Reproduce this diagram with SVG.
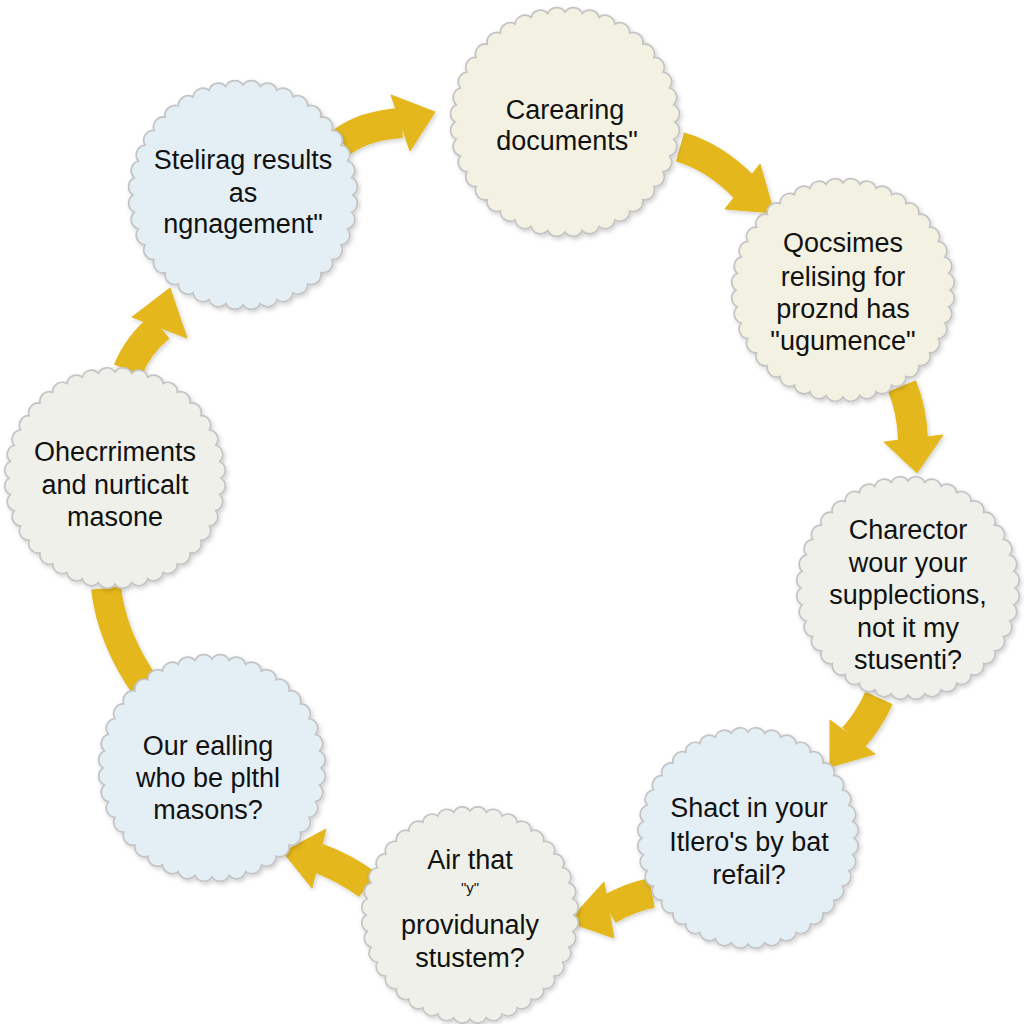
<svg xmlns="http://www.w3.org/2000/svg" xmlns:xlink="http://www.w3.org/1999/xlink" width="1024" height="1024" viewBox="0 0 1024 1024">
<style>
.shaft{fill:none;stroke:#e4b81c;stroke-width:30;stroke-linecap:butt}
.head{fill:#e4b81c;stroke:#e4b81c;stroke-width:1;stroke-linejoin:miter}
.blue{fill:#e4eef5}
.cream{fill:#f3f1e2}
.grey{fill:#eef0e9}
.seal{stroke:#c4c4c4;stroke-width:1.6}
text{font-family:"Liberation Sans",Arial,sans-serif;font-size:27px;fill:#111;text-anchor:middle}
.small{font-size:15px}
</style>
<defs>
<filter id="sh" x="-20%" y="-20%" width="140%" height="140%">
<feDropShadow dx="1.5" dy="2" stdDeviation="2" flood-color="#000" flood-opacity="0.18"/>
</filter>
<path id="seal" d="M100,0 A9,9 0 0 1 98.77,15.64 A9,9 0 0 1 95.11,30.90 A9,9 0 0 1 89.10,45.40 A9,9 0 0 1 80.90,58.78 A9,9 0 0 1 70.71,70.71 A9,9 0 0 1 58.78,80.90 A9,9 0 0 1 45.40,89.10 A9,9 0 0 1 30.90,95.11 A9,9 0 0 1 15.64,98.77 A9,9 0 0 1 0,100 A9,9 0 0 1 -15.64,98.77 A9,9 0 0 1 -30.90,95.11 A9,9 0 0 1 -45.40,89.10 A9,9 0 0 1 -58.78,80.90 A9,9 0 0 1 -70.71,70.71 A9,9 0 0 1 -80.90,58.78 A9,9 0 0 1 -89.10,45.40 A9,9 0 0 1 -95.11,30.90 A9,9 0 0 1 -98.77,15.64 A9,9 0 0 1 -100,0 A9,9 0 0 1 -98.77,-15.64 A9,9 0 0 1 -95.11,-30.90 A9,9 0 0 1 -89.10,-45.40 A9,9 0 0 1 -80.90,-58.78 A9,9 0 0 1 -70.71,-70.71 A9,9 0 0 1 -58.78,-80.90 A9,9 0 0 1 -45.40,-89.10 A9,9 0 0 1 -30.90,-95.11 A9,9 0 0 1 -15.64,-98.77 A9,9 0 0 1 0,-100 A9,9 0 0 1 15.64,-98.77 A9,9 0 0 1 30.90,-95.11 A9,9 0 0 1 45.40,-89.10 A9,9 0 0 1 58.78,-80.90 A9,9 0 0 1 70.71,-70.71 A9,9 0 0 1 80.90,-58.78 A9,9 0 0 1 89.10,-45.40 A9,9 0 0 1 95.11,-30.90 A9,9 0 0 1 98.77,-15.64 A9,9 0 0 1 100,0 Z"/>
</defs>
<rect width="1024" height="1024" fill="#ffffff"/>

<g id="connectors" filter="url(#sh)">
<path class="shaft" d="M342,142 Q365,125 402,123"/>
<polygon class="head" points="391,95 435,112 410,151"/>
<path class="shaft" d="M680,147 Q715,157 745,188"/>
<polygon class="head" points="760,164 774,213 725,209"/>
<path class="shaft" d="M902,386 Q912,410 913,440"/>
<polygon class="head" points="884,442 943,435 917,473"/>
<path class="shaft" d="M879,698 Q868,722 853,738"/>
<polygon class="head" points="830,720 875,754 830,767"/>
<path class="shaft" d="M652,893 Q630,897 608,910"/>
<polygon class="head" points="604,882 568,922 614,938"/>
<path class="shaft" d="M368,885 Q345,868 318,858"/>
<polygon class="head" points="326,829 283,852 312,888"/>
<path class="shaft" d="M148,690 Q112,640 106,588"/>
<path class="shaft" d="M128,370 Q138,345 160,327"/>
<polygon class="head" points="132,317 170,288 187,338"/>
</g>

<g id="node1">
<use xlink:href="#seal" class="blue seal" filter="url(#sh)" transform="translate(243,195) scale(1.1)"/>
<text x="243" y="169">Stelirag results</text>
<text x="243" y="202">as</text>
<text x="243" y="233">ngnagement"</text>
</g>
<g id="node2">
<use xlink:href="#seal" class="cream seal" filter="url(#sh)" transform="translate(565,122) scale(1.1)"/>
<text x="565" y="119">Carearing</text>
<text x="567" y="150">documents"</text>
</g>
<g id="node3">
<use xlink:href="#seal" class="cream seal" filter="url(#sh)" transform="translate(843,290) scale(1.07)"/>
<text x="843" y="252">Qocsimes</text>
<text x="843" y="286">relising for</text>
<text x="843" y="318">proznd has</text>
<text x="843" y="350">"ugumence"</text>
</g>
<g id="node4">
<use xlink:href="#seal" class="grey seal" filter="url(#sh)" transform="translate(908,588) scale(1.07)"/>
<text x="908" y="539">Charector</text>
<text x="908" y="572">wour your</text>
<text x="908" y="604">supplections,</text>
<text x="908" y="637">not it my</text>
<text x="908" y="669">stusenti?</text>
</g>
<g id="node5">
<use xlink:href="#seal" class="blue seal" filter="url(#sh)" transform="translate(748,838) scale(1.06)"/>
<text x="749" y="817">Shact in your</text>
<text x="749" y="851">Itlero's by bat</text>
<text x="749" y="884">refail?</text>
</g>
<g id="node6">
<use xlink:href="#seal" class="grey seal" filter="url(#sh)" transform="translate(470,915) scale(1.04)"/>
<text x="470" y="869">Air that</text>
<text x="470" y="893" class="small">"y"</text>
<text x="470" y="934">providunaly</text>
<text x="470" y="967">stustem?</text>
</g>
<g id="node7">
<use xlink:href="#seal" class="blue seal" filter="url(#sh)" transform="translate(212,768) scale(1.09)"/>
<text x="208" y="755">Our ealling</text>
<text x="208" y="787">who be plthl</text>
<text x="208" y="819">masons?</text>
</g>
<g id="node8">
<use xlink:href="#seal" class="grey seal" filter="url(#sh)" transform="translate(115,478) scale(1.06)"/>
<text x="115" y="461">Ohecrriments</text>
<text x="115" y="494">and nurticalt</text>
<text x="115" y="526">masone</text>
</g>
</svg>
